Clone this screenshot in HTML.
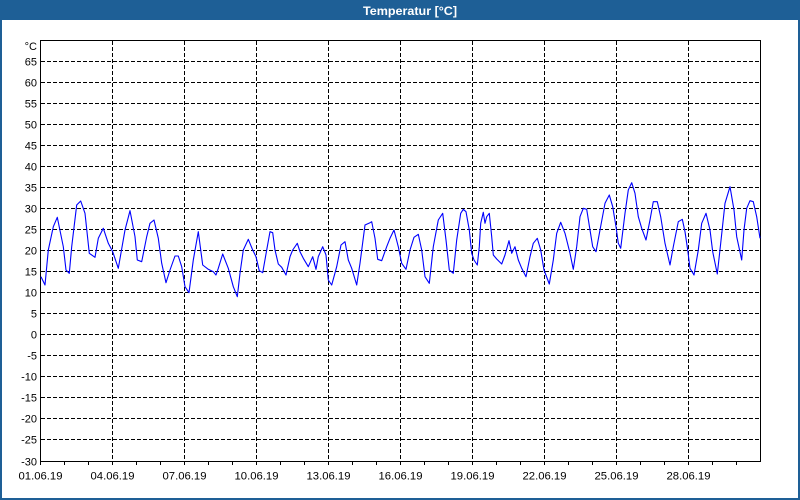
<!DOCTYPE html>
<html>
<head>
<meta charset="utf-8">
<style>
html,body{margin:0;padding:0;background:#ffffff;}
body{width:800px;height:500px;overflow:hidden;}
svg{display:block;}
text{font-family:"Liberation Sans",sans-serif;}
</style>
</head>
<body>
<svg width="800" height="500" viewBox="0 0 800 500" xmlns="http://www.w3.org/2000/svg">
  <rect x="0" y="0" width="800" height="500" fill="#ffffff"/>
  <!-- window frame -->
  <rect x="0" y="0" width="800" height="20" fill="#1e5f96"/>
  <rect x="0" y="20" width="2" height="480" fill="#1e5f96"/>
  <rect x="798" y="20" width="2" height="480" fill="#1e5f96"/>
  <rect x="0" y="498" width="800" height="2" fill="#1e5f96"/>
  <text x="363" y="15" font-size="12" font-weight="bold" fill="#ffffff" textLength="94" lengthAdjust="spacingAndGlyphs">Temperatur [°C]</text>

  <!-- horizontal grid -->
  <g stroke="#000" stroke-width="1" stroke-dasharray="4,2" shape-rendering="crispEdges">
    <line x1="41" y1="61.5" x2="760" y2="61.5"/>
    <line x1="41" y1="82.5" x2="760" y2="82.5"/>
    <line x1="41" y1="103.5" x2="760" y2="103.5"/>
    <line x1="41" y1="124.5" x2="760" y2="124.5"/>
    <line x1="41" y1="145.5" x2="760" y2="145.5"/>
    <line x1="41" y1="166.5" x2="760" y2="166.5"/>
    <line x1="41" y1="187.5" x2="760" y2="187.5"/>
    <line x1="41" y1="208.5" x2="760" y2="208.5"/>
    <line x1="41" y1="229.5" x2="760" y2="229.5"/>
    <line x1="41" y1="250.5" x2="760" y2="250.5"/>
    <line x1="41" y1="271.5" x2="760" y2="271.5"/>
    <line x1="41" y1="292.5" x2="760" y2="292.5"/>
    <line x1="41" y1="313.5" x2="760" y2="313.5"/>
    <line x1="41" y1="334.5" x2="760" y2="334.5"/>
    <line x1="41" y1="355.5" x2="760" y2="355.5"/>
    <line x1="41" y1="376.5" x2="760" y2="376.5"/>
    <line x1="41" y1="397.5" x2="760" y2="397.5"/>
    <line x1="41" y1="418.5" x2="760" y2="418.5"/>
    <line x1="41" y1="439.5" x2="760" y2="439.5"/>
  </g>
  <!-- vertical grid -->
  <g stroke="#000" stroke-width="1" stroke-dasharray="4,2" shape-rendering="crispEdges">
    <line x1="112.5" y1="41" x2="112.5" y2="461"/>
    <line x1="184.5" y1="41" x2="184.5" y2="461"/>
    <line x1="256.5" y1="41" x2="256.5" y2="461"/>
    <line x1="328.5" y1="41" x2="328.5" y2="461"/>
    <line x1="400.5" y1="41" x2="400.5" y2="461"/>
    <line x1="472.5" y1="41" x2="472.5" y2="461"/>
    <line x1="544.5" y1="41" x2="544.5" y2="461"/>
    <line x1="616.5" y1="41" x2="616.5" y2="461"/>
    <line x1="688.5" y1="41" x2="688.5" y2="461"/>
  </g>
  <!-- plot box -->
  <rect x="40.5" y="40.5" width="720" height="421" fill="none" stroke="#000" stroke-width="1" shape-rendering="crispEdges"/>
  <!-- bottom ticks -->
  <g stroke="#000" stroke-width="1" shape-rendering="crispEdges">
    <line x1="40.5" y1="461" x2="40.5" y2="465"/><line x1="64.5" y1="461" x2="64.5" y2="465"/><line x1="88.5" y1="461" x2="88.5" y2="465"/>
    <line x1="112.5" y1="461" x2="112.5" y2="465"/><line x1="136.5" y1="461" x2="136.5" y2="465"/><line x1="160.5" y1="461" x2="160.5" y2="465"/>
    <line x1="184.5" y1="461" x2="184.5" y2="465"/><line x1="208.5" y1="461" x2="208.5" y2="465"/><line x1="232.5" y1="461" x2="232.5" y2="465"/>
    <line x1="256.5" y1="461" x2="256.5" y2="465"/><line x1="280.5" y1="461" x2="280.5" y2="465"/><line x1="304.5" y1="461" x2="304.5" y2="465"/>
    <line x1="328.5" y1="461" x2="328.5" y2="465"/><line x1="352.5" y1="461" x2="352.5" y2="465"/><line x1="376.5" y1="461" x2="376.5" y2="465"/>
    <line x1="400.5" y1="461" x2="400.5" y2="465"/><line x1="424.5" y1="461" x2="424.5" y2="465"/><line x1="448.5" y1="461" x2="448.5" y2="465"/>
    <line x1="472.5" y1="461" x2="472.5" y2="465"/><line x1="496.5" y1="461" x2="496.5" y2="465"/><line x1="520.5" y1="461" x2="520.5" y2="465"/>
    <line x1="544.5" y1="461" x2="544.5" y2="465"/><line x1="568.5" y1="461" x2="568.5" y2="465"/><line x1="592.5" y1="461" x2="592.5" y2="465"/>
    <line x1="616.5" y1="461" x2="616.5" y2="465"/><line x1="640.5" y1="461" x2="640.5" y2="465"/><line x1="664.5" y1="461" x2="664.5" y2="465"/>
    <line x1="688.5" y1="461" x2="688.5" y2="465"/><line x1="712.5" y1="461" x2="712.5" y2="465"/><line x1="736.5" y1="461" x2="736.5" y2="465"/>
  </g>

  <!-- y labels -->
  <g font-size="11" fill="#000" text-anchor="end">
    <text x="37" y="50">°C</text>
    <text x="37" y="65.5">65</text>
    <text x="37" y="86.5">60</text>
    <text x="37" y="107.5">55</text>
    <text x="37" y="128.5">50</text>
    <text x="37" y="149.5">45</text>
    <text x="37" y="170.5">40</text>
    <text x="37" y="191.5">35</text>
    <text x="37" y="212.5">30</text>
    <text x="37" y="233.5">25</text>
    <text x="37" y="254.5">20</text>
    <text x="37" y="275.5">15</text>
    <text x="37" y="296.5">10</text>
    <text x="37" y="317.5">5</text>
    <text x="37" y="338.5">0</text>
    <text x="37" y="359.5">-5</text>
    <text x="37" y="380.5">-10</text>
    <text x="37" y="401.5">-15</text>
    <text x="37" y="422.5">-20</text>
    <text x="37" y="443.5">-25</text>
    <text x="37" y="465.5">-30</text>
  </g>
  <!-- x labels -->
  <g font-size="11" fill="#000">
    <text x="18.5" y="479.5" textLength="44" lengthAdjust="spacingAndGlyphs">01.06.19</text>
    <text x="90.5" y="479.5" textLength="44" lengthAdjust="spacingAndGlyphs">04.06.19</text>
    <text x="162.5" y="479.5" textLength="44" lengthAdjust="spacingAndGlyphs">07.06.19</text>
    <text x="234.5" y="479.5" textLength="44" lengthAdjust="spacingAndGlyphs">10.06.19</text>
    <text x="306.5" y="479.5" textLength="44" lengthAdjust="spacingAndGlyphs">13.06.19</text>
    <text x="378.5" y="479.5" textLength="44" lengthAdjust="spacingAndGlyphs">16.06.19</text>
    <text x="450.5" y="479.5" textLength="44" lengthAdjust="spacingAndGlyphs">19.06.19</text>
    <text x="522.5" y="479.5" textLength="44" lengthAdjust="spacingAndGlyphs">22.06.19</text>
    <text x="594.5" y="479.5" textLength="44" lengthAdjust="spacingAndGlyphs">25.06.19</text>
    <text x="666.5" y="479.5" textLength="44" lengthAdjust="spacingAndGlyphs">28.06.19</text>
  </g>

  <!-- series -->
  <polyline fill="none" stroke="#0000ff" stroke-width="1.1" stroke-linejoin="round" points="
41,276.7 45,285 48.3,250 53.3,226.7 57.3,217.3 63.3,246.7 66,270 69.3,273.3 71.7,246.7 76.7,205 80.7,201 85,213.3 89.3,253.3 95,257.3 98.3,238.3 103.3,228.3 108.3,243.3 112.7,251.7 118.3,268.3 125,230 130,210.7 135,236.7 137.3,260 141.7,261.7 146.7,236.7 150,223.3 154,220 158.3,238.3 161.7,263.3 166,282.7 170,270 175,256 178.3,256 181.7,266.7 185,286.7 189,292.7 193.3,260 198.3,231.7 202.7,265 208.3,269.3 213.3,271.7 216,275 218.3,268.3 222.7,254 228.3,268.3 233.3,286.7 237.3,296.7 240,273.3 243.3,250 248.3,239.3 252.7,250 256,256.7 259.3,270.7 262.7,272.7 266.7,250 270,231.7 272.7,232.7 275,250 278.3,264 281.7,267.3 286,275 290,256.7 292.7,250 297.3,243.3 300,251.7 303.3,258.3 308.3,266.7 312.7,256.7 316,269.3 318.3,256.7 322.7,246.7 326,255 328.3,280 331.7,285 336.7,266.7 341,245 345,241.7 348.3,260 351.7,268.3 356.7,285 360,263.3 365,225 370,222.7 371.7,221.7 375,238.3 377.7,259.3 381.7,260.7 386.7,246.7 390,238.3 394,230 398.3,246.7 401.7,263.3 406,269.3 410,250 414,237.3 418.3,234.3 421.7,250 425,276.7 429.3,283.3 433.3,246.7 438.3,220 442.7,213.3 446,240 449.3,270 453.3,273.3 456.7,240 460.7,213.3 463.3,209.3 466,211.7 469.3,230 471.7,253.3 474,260 477.3,265 479.3,246.7 480.7,223.3 483.3,212.3 485,223.3 486.7,216.7 489.3,213.3 491.7,236.7 493.3,255 496.7,259 501.7,264 505,255 509,240.7 511.7,253.3 515,246.7 518.3,260 521.7,268.3 526,276.7 530,256.7 533.3,243.3 537.3,238.3 540.7,250 544,270 549.3,284 553.3,260 556.7,233.3 560.7,222.3 565,233.3 570,253.3 573.3,269.3 576.7,246.7 580,216.7 583.3,208.3 586.7,209.3 590,230 592.7,246.7 596,251.7 600,230 605,203.3 609.3,195 612.7,206.7 616,226.7 618.3,243.3 620.7,248.3 625,213.3 628.3,190 631.7,182.7 635,193.3 638.3,216.7 641.7,228.3 646,240 650,220 653.3,201.7 657.3,201.7 660.7,216.7 665,243.3 670,265 673.3,246.7 678.3,221.7 682.3,219.3 685,231.7 687.7,250 690,268.3 694,275 698.3,250 701.7,223.3 706,213.3 710,230 712.7,251.7 717.3,274 720.7,243.3 725,203.3 730,186.7 734,210 736.7,236.7 741.7,260 744,230 746.7,208.3 750,200.7 753.3,201.7 756.7,216.7 760,238.3"/>
</svg>
</body>
</html>
